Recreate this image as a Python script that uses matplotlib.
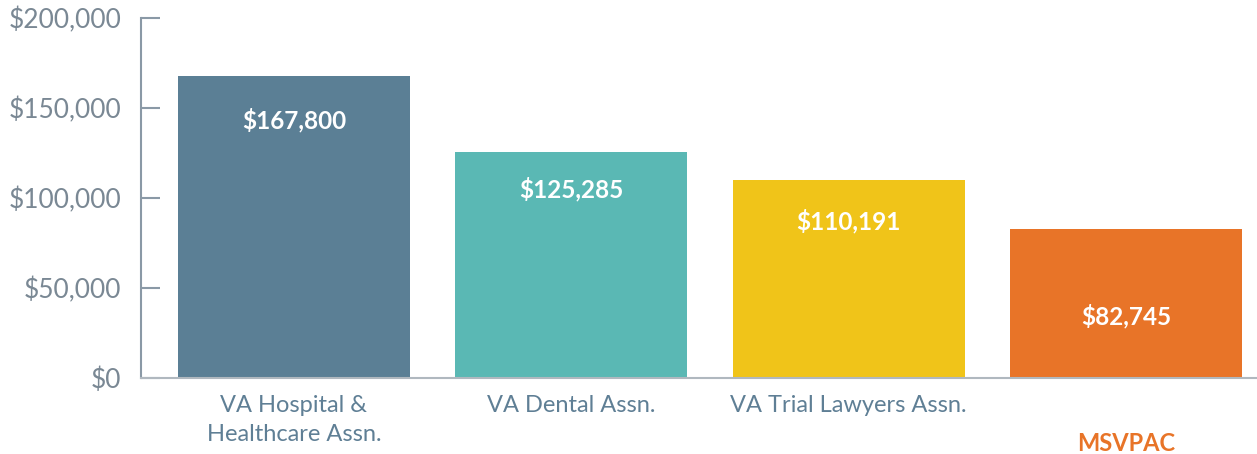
import matplotlib.pyplot as plt
from matplotlib.ticker import FuncFormatter

categories = ['VA Hospital &\nHealthcare Assn.', 'VA Dental Assn.', 'VA Trial Lawyers Assn.', '\nMSVPAC']
values = [167800, 125285, 110191, 82745]
value_labels = ['$167,800', '$125,285', '$110,191', '$82,745']
y_ticks = [0, 50000, 100000, 150000, 200000]

colors = ['#5b7f95', '#5ab8b4', '#f0c419', '#e87428']
label_drop = [24400, 20500, 22800, 48300]  # how far below the bar top the value sits

plt.rcParams['font.family'] = ['Lato', 'DejaVu Sans']

fig = plt.figure(figsize=(12.57, 4.54), dpi=100)
ax = fig.add_axes([0.1122, 0.1674, 0.8878, 0.793])

x = range(len(values))
ax.bar(x, values, width=0.836, color=colors, zorder=2)

for i, v in enumerate(values):
    ax.text(i, v - label_drop[i], value_labels[i], ha='center', va='center',
            color='white', fontsize=17.5, fontweight='bold')

ax.set_xlim(-0.551, 3.472)
ax.set_ylim(0, 200000)
ax.set_yticks(y_ticks)
ax.yaxis.set_major_formatter(FuncFormatter(lambda v, p: '${:,.0f}'.format(v)))
ax.set_xticks(list(x))
ax.set_xticklabels(categories, linespacing=1.5)

for s in ['top', 'right']:
    ax.spines[s].set_visible(False)
ax.spines['left'].set_color('#8a99a6')
ax.spines['left'].set_linewidth(1.5)
ax.spines['bottom'].set_color('#b0b8bf')
ax.spines['bottom'].set_linewidth(1.5)

ax.tick_params(axis='y', direction='in', length=14, width=1.5, color='#8a99a6',
               labelsize=19, labelcolor='#7a8894', pad=14)
ax.tick_params(axis='x', length=0, labelsize=17, labelcolor='#5f7f95', pad=12)

last = ax.get_xticklabels()[-1]
last.set_color('#e87428')
last.set_fontweight('bold')
last.set_linespacing(1.75)

plt.savefig('out.png')
